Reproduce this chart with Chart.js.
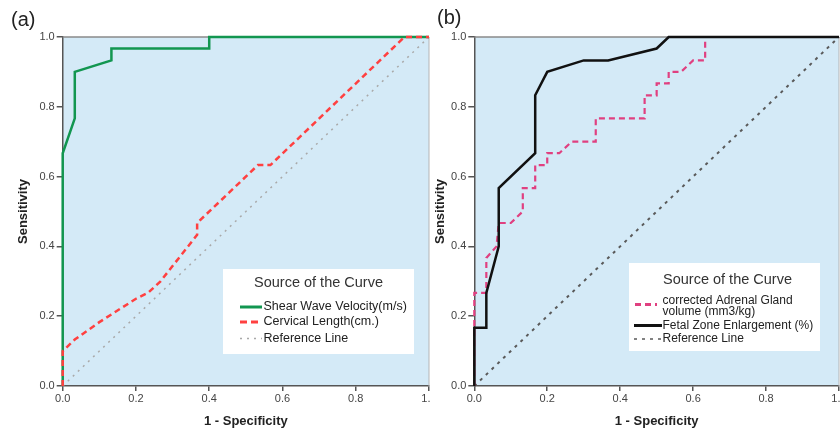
<!DOCTYPE html>
<html>
<head>
<meta charset="utf-8">
<script src="https://cdn.jsdelivr.net/npm/chart.js@4.4.1/dist/chart.umd.min.js"></script>
<style>
  html, body { margin: 0; padding: 0; background: #fff; }
  body { width: 840px; height: 432px; position: relative; overflow: hidden; }
  canvas { position: absolute; top: 0; }
  #ca { left: 0; }
  #cb { left: 430px; }
  .pl { position: absolute; font-family: "Liberation Sans", Arial, sans-serif; font-size: 20px; color: #222; line-height: 20px; }
</style>
</head>
<body>
<canvas id="ca" width="430" height="432"></canvas>
<canvas id="cb" width="410" height="432"></canvas>
<div class="pl" style="left:11px;top:9px;">(a)</div>
<div class="pl" style="left:437px;top:7px;">(b)</div>
<script>
// ---- tick values / labels ----
const tickValues = [0, 0.2, 0.4, 0.6, 0.8, 1.0];
const tickLabels = ['0.0', '0.2', '0.4', '0.6', '0.8', '1.0'];

// ---- panel (a) ----
const swvX = [0, 0, 0.033, 0.033, 0.133, 0.133, 0.4, 0.4, 1];
const swvY = [0, 0.667, 0.767, 0.9, 0.933, 0.967, 0.967, 1, 1];
const clX = [0, 0, 0.033, 0.1, 0.2, 0.233, 0.267, 0.367, 0.367, 0.533, 0.567, 0.933, 1];
const clY = [0, 0.1, 0.133, 0.183, 0.25, 0.267, 0.3, 0.433, 0.467, 0.633, 0.633, 1, 1];

// ---- panel (b) ----
const agX = [0, 0, 0.033, 0.033, 0.061, 0.067, 0.1, 0.133, 0.133, 0.167, 0.167, 0.2, 0.2, 0.233, 0.267, 0.333, 0.333, 0.467, 0.467, 0.5, 0.5, 0.533, 0.533, 0.567, 0.6, 0.633, 0.633, 1];
const agY = [0, 0.267, 0.267, 0.367, 0.4, 0.467, 0.467, 0.5, 0.567, 0.567, 0.633, 0.633, 0.667, 0.667, 0.7, 0.7, 0.767, 0.767, 0.833, 0.833, 0.867, 0.867, 0.9, 0.9, 0.933, 0.933, 1, 1];
const fzX = [0, 0, 0.033, 0.033, 0.067, 0.067, 0.167, 0.167, 0.2, 0.3, 0.367, 0.5, 0.533, 1];
const fzY = [0, 0.167, 0.167, 0.267, 0.4, 0.567, 0.667, 0.833, 0.9, 0.933, 0.933, 0.967, 1, 1];

// reference diagonal
const refX = [0, 1];
const refY = [0, 1];

const labelsA = ['Shear Wave Velocity(m/s)', 'Cervical Length(cm.)', 'Reference Line'];
const labelsB = ['corrected Adrenal Gland\nvolume (mm3/kg)', 'Fetal Zone Enlargement (%)', 'Reference Line'];
const legendTitle = 'Source of the Curve';
const xTitle = '1 - Specificity';
const yTitle = 'Sensitivity';

const FONT = '"Liberation Sans", Arial, sans-serif';
Chart.defaults.font.family = FONT;

function pts(xs, ys) { return xs.map((x, i) => ({ x: x, y: ys[i] })); }

const bgPlugin = {
  id: 'bgPlugin',
  beforeDraw(chart) {
    const { ctx, chartArea: a } = chart;
    ctx.save();
    ctx.fillStyle = 'rgb(212,234,247)';
    ctx.fillRect(a.left, a.top, a.right - a.left, a.bottom - a.top);
    ctx.restore();
  },
  beforeDatasetsDraw(chart) {
    const { ctx, chartArea: a } = chart;
    ctx.save();
    ctx.strokeStyle = '#8a8a8a';
    ctx.lineWidth = 1.5;
    ctx.beginPath();
    ctx.moveTo(a.left, a.top);
    ctx.lineTo(a.right, a.top);
    ctx.stroke();
    ctx.strokeStyle = '#b5b5b5';
    ctx.lineWidth = 1;
    ctx.beginPath();
    ctx.moveTo(a.right, a.top);
    ctx.lineTo(a.right, a.bottom);
    ctx.stroke();
    ctx.restore();
  }
};

const legendPlugin = {
  id: 'boxLegend',
  afterDraw(chart, args, o) {
    const { ctx } = chart;
    ctx.save();
    ctx.fillStyle = '#ffffff';
    ctx.fillRect(o.x, o.y, o.w, o.h);
    ctx.fillStyle = '#333';
    ctx.font = o.titleSize + 'px ' + FONT;
    ctx.textAlign = 'center';
    ctx.textBaseline = 'middle';
    ctx.fillText(legendTitle, o.titleX, o.titleY);
    ctx.textAlign = 'left';
    ctx.font = o.itemSize + 'px ' + FONT;
    chart.data.datasets.forEach((ds, i) => {
      const it = o.items[i];
      ctx.strokeStyle = ds.borderColor;
      ctx.lineWidth = it.lw;
      ctx.setLineDash(it.dash);
      ctx.beginPath();
      ctx.moveTo(it.x0, it.ly);
      ctx.lineTo(it.x1, it.ly);
      ctx.stroke();
      ctx.setLineDash([]);
      ctx.fillStyle = '#222';
      const lines = ds.label.split('\n');
      lines.forEach((ln, k) => ctx.fillText(ln, o.textX, it.ty + k * o.lineGap));
    });
    ctx.restore();
  }
};

function makeOptions(yWidth, yTitlePad, legend) {
  return {
    responsive: false,
    animation: false,
    layout: { padding: { left: 0, top: 37, right: 1, bottom: 0 } },
    plugins: {
      legend: { display: false },
      tooltip: { enabled: false },
      boxLegend: legend
    },
    scales: {
      x: {
        type: 'linear', min: 0, max: 1,
        afterBuildTicks: s => { s.ticks = tickValues.map(v => ({ value: v })); },
        afterFit: s => { s.height = 46; s.paddingLeft = 0; s.paddingRight = 0; },
        ticks: {
          callback: (v) => tickLabels[tickValues.indexOf(v)],
          font: { size: 11 }, color: '#444', padding: 1, maxRotation: 0, autoSkip: false
        },
        grid: { drawOnChartArea: false, drawTicks: true, tickLength: 5, color: '#555', lineWidth: 1.5 },
        border: { display: true, color: '#555', width: 1.5 },
        title: { display: true, text: xTitle, font: { size: 13, weight: 'bold' }, color: '#222', padding: { top: 0, bottom: 3 } }
      },
      y: {
        type: 'linear', min: 0, max: 1,
        afterBuildTicks: s => { s.ticks = tickValues.map(v => ({ value: v })); },
        afterFit: s => { s.width = yWidth; s.paddingTop = 0; s.paddingBottom = 0; },
        ticks: {
          callback: (v) => tickLabels[tickValues.indexOf(v)],
          font: { size: 11 }, color: '#444', padding: 2, autoSkip: false
        },
        grid: { drawOnChartArea: false, drawTicks: true, tickLength: 6, color: '#555', lineWidth: 1.5 },
        border: { display: true, color: '#555', width: 1.5 },
        title: { display: true, text: yTitle, font: { size: 13, weight: 'bold' }, color: '#222', padding: { top: yTitlePad, bottom: 0 } }
      }
    }
  };
}

function line(label, xs, ys, color, width, dash, order) {
  return {
    label: label, data: pts(xs, ys), showLine: true, borderColor: color, backgroundColor: color,
    borderWidth: width, borderDash: dash, pointRadius: 0, pointHoverRadius: 0, fill: false,
    tension: 0, clip: false, order: order
  };
}

new Chart(document.getElementById('ca'), {
  type: 'scatter',
  data: {
    datasets: [
      line(labelsA[0], swvX, swvY, 'rgb(18,150,80)', 2.5, [], 1),
      line(labelsA[1], clX, clY, 'rgb(255,64,64)', 2.5, [6, 4], 0),
      line(labelsA[2], refX, refY, '#a9a9a9', 1.5, [2, 5], 2)
    ]
  },
  options: makeOptions(62.7, 16, {
    x: 223, y: 269, w: 191, h: 85, titleX: 318.5, titleY: 283, titleSize: 14.5, itemSize: 12.5,
    textX: 263.5, lineGap: 12,
    items: [
      { x0: 240, x1: 262, ly: 307, ty: 307, lw: 3, dash: [] },
      { x0: 240, x1: 262, ly: 322, ty: 322, lw: 3, dash: [7, 4] },
      { x0: 240, x1: 262, ly: 338.5, ty: 338.5, lw: 1.5, dash: [2, 5] }
    ]
  }),
  plugins: [bgPlugin, legendPlugin]
});

new Chart(document.getElementById('cb'), {
  type: 'scatter',
  data: {
    datasets: [
      line(labelsB[0], agX, agY, 'rgb(224,64,128)', 2.2, [6, 4], 1),
      line(labelsB[1], fzX, fzY, '#111111', 2.5, [], 0),
      line(labelsB[2], refX, refY, '#5a5a5a', 2, [3, 5], 2)
    ]
  },
  options: makeOptions(44.3, 3, {
    x: 199, y: 263, w: 191, h: 88, titleX: 297.5, titleY: 280, titleSize: 14.5, itemSize: 12,
    textX: 232.5, lineGap: 11,
    items: [
      { x0: 205, x1: 227, ly: 304.5, ty: 300.5, lw: 3, dash: [6, 4] },
      { x0: 204, x1: 232, ly: 325.5, ty: 325.5, lw: 3, dash: [] },
      { x0: 204, x1: 231, ly: 339, ty: 339, lw: 1.5, dash: [3, 5] }
    ]
  }),
  plugins: [bgPlugin, legendPlugin]
});
</script>
</body>
</html>
